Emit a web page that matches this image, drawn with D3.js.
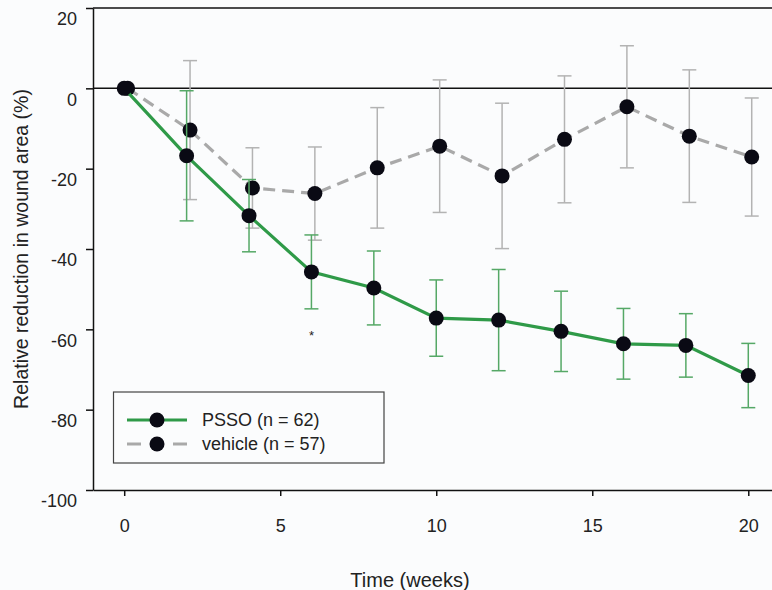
<!DOCTYPE html>
<html>
<head>
<meta charset="utf-8">
<script src="https://cdn.jsdelivr.net/npm/d3@7"></script>
<style>
  body { margin: 0; background: #fbfcfd; }
  svg { display: block; font-family: "Liberation Sans", Arial, sans-serif; }
</style>
</head>
<body>
<div id="chart"></div>
<script>
// weeks of follow-up
var weeks = [0, 2, 4, 6, 8, 10, 12, 14, 16, 18, 20];

// PSSO group: mean and error (half-width)
var psso = [0, -16.8, -31.7, -45.7, -49.7, -57.2, -57.7, -60.5, -63.6, -64.0, -71.5];
var pssoErr = [0, 16.2, 9.0, 9.2, 9.2, 9.5, 12.6, 10.0, 8.8, 7.9, 8.0];

// vehicle group
var vehicle = [0, -10.4, -24.8, -26.2, -19.8, -14.4, -21.8, -12.7, -4.6, -11.9, -17.1];
var vehicleErr = [0, 17.3, 10.0, 11.6, 15.0, 16.5, 18.1, 15.8, 15.2, 16.5, 14.7];

var xTicks = [0, 5, 10, 15, 20];
var yTicks = [20, 0, -20, -40, -60, -80, -100];
var seriesNames = ["PSSO (n = 62)", "vehicle (n = 57)"];
var sigWeeks = [6];

var w = 772, h = 590;
var green = "#2f9a48", greenBar = "#55a866", grey = "#a9a9a9", greyBar = "#b3b3b3";
var fontSize = 18;

var svg = d3.select("#chart").append("svg")
    .attr("width", w)
    .attr("height", h);

var x = d3.scaleLinear().domain([-1, 20.76]).range([93, 772]);
var y = d3.scaleLinear().domain([-100, 20]).range([490, 8]);

// plain hyphen for negatives, like the original figure
var fmt = function(d){ return String(d); };

// x axis
var xAxis = svg.append("g")
    .attr("transform", "translate(0," + y(-100) + ")")
    .call(d3.axisBottom(x).tickValues(xTicks).tickFormat(fmt).tickSize(6).tickPadding(23).tickSizeOuter(0));
xAxis.select(".domain").attr("stroke", "#111").attr("stroke-width", 1.5);
xAxis.selectAll(".tick line").attr("stroke", "#111").attr("stroke-width", 1.5);
xAxis.selectAll("text").attr("font-size", fontSize + "px").attr("fill", "#222")
    .attr("font-family", "Liberation Sans, Arial, sans-serif");

// y axis
var yAxis = svg.append("g")
    .attr("transform", "translate(" + x(-1) + ",0)")
    .call(d3.axisLeft(y).tickValues(yTicks).tickFormat(fmt).tickSize(7).tickPadding(9).tickSizeOuter(0));
yAxis.select(".domain").attr("stroke", "#111").attr("stroke-width", 1.5);
yAxis.selectAll(".tick line").attr("stroke", "#111").attr("stroke-width", 1.5);
yAxis.selectAll("text").attr("font-size", fontSize + "px").attr("fill", "#222")
    .attr("y", 11)
    .attr("font-family", "Liberation Sans, Arial, sans-serif");

// top frame line and zero reference
svg.append("line")
    .attr("x1", x(-1)).attr("x2", w)
    .attr("y1", y(20)).attr("y2", y(20))
    .attr("stroke", "#111").attr("stroke-width", 1.5);
svg.append("line")
    .attr("x1", x(-1)).attr("x2", w)
    .attr("y1", y(0)).attr("y2", y(0))
    .attr("stroke", "#111").attr("stroke-width", 1.5);

// axis titles
svg.append("text")
    .attr("x", 410)
    .attr("y", 587)
    .attr("text-anchor", "middle")
    .attr("font-size", "20px")
    .attr("fill", "#222")
    .text("Time (weeks)");

svg.append("text")
    .attr("transform", "translate(28," + 249 + ") rotate(-90)")
    .attr("text-anchor", "middle")
    .attr("font-size", "19.5px")
    .attr("fill", "#222")
    .text("Relative reduction in wound area (%)");

// vehicle points are nudged a little to the right so the bars don't overlap
var offset = {psso: 0, vehicle: 0.11};

function drawSeries(vals, errs, shift, lineColor, barColor, dash) {
    var g = svg.append("g");
    var pts = weeks.map(function(d, i){ return {wk: d + shift, v: vals[i], e: errs[i]}; });
    var bars = pts.filter(function(d){ return d.e > 0; });

    g.selectAll(".bar")
        .data(bars).enter().append("line")
        .attr("x1", function(d){ return x(d.wk); })
        .attr("x2", function(d){ return x(d.wk); })
        .attr("y1", function(d){ return y(d.v + d.e); })
        .attr("y2", function(d){ return y(d.v - d.e); })
        .attr("stroke", barColor).attr("stroke-width", 1.5);
    g.selectAll(".capTop")
        .data(bars).enter().append("line")
        .attr("x1", function(d){ return x(d.wk) - 7; })
        .attr("x2", function(d){ return x(d.wk) + 7; })
        .attr("y1", function(d){ return y(d.v + d.e); })
        .attr("y2", function(d){ return y(d.v + d.e); })
        .attr("stroke", barColor).attr("stroke-width", 1.5);
    g.selectAll(".capBot")
        .data(bars).enter().append("line")
        .attr("x1", function(d){ return x(d.wk) - 7; })
        .attr("x2", function(d){ return x(d.wk) + 7; })
        .attr("y1", function(d){ return y(d.v - d.e); })
        .attr("y2", function(d){ return y(d.v - d.e); })
        .attr("stroke", barColor).attr("stroke-width", 1.5);

    var line = d3.line()
        .x(function(d){ return x(d.wk); })
        .y(function(d){ return y(d.v); });
    g.append("path")
        .datum(pts)
        .attr("d", line)
        .attr("fill", "none")
        .attr("stroke", lineColor)
        .attr("stroke-width", 3.2)
        .attr("stroke-dasharray", dash);
    return {g: g, pts: pts};
}

var sV = drawSeries(vehicle, vehicleErr, offset.vehicle, grey, greyBar, "12,7");
var sP = drawSeries(psso, pssoErr, offset.psso, green, greenBar, null);

[sV, sP].forEach(function(s){
    s.g.selectAll("circle")
        .data(s.pts).enter().append("circle")
        .attr("cx", function(d){ return x(d.wk); })
        .attr("cy", function(d){ return y(d.v); })
        .attr("r", 7.5)
        .attr("fill", "#0a0a14");
});

// significance marker
svg.selectAll(".sig")
    .data(sigWeeks).enter().append("text")
    .attr("x", function(d){ return x(d); })
    .attr("y", function(d){ return y(psso[weeks.indexOf(d)] - pssoErr[weeks.indexOf(d)]) + 31; })
    .attr("text-anchor", "middle")
    .attr("font-size", "13px")
    .attr("fill", "#222")
    .text("*");

// legend
var leg = svg.append("g");
leg.append("rect")
    .attr("x", 113.5).attr("y", 392)
    .attr("width", 270.5).attr("height", 71)
    .attr("fill", "none")
    .attr("stroke", "#444").attr("stroke-width", 1.2);

var legItems = [
    {name: seriesNames[0], color: green, dash: null},
    {name: seriesNames[1], color: grey, dash: "12,7"}
];
legItems.forEach(function(d, i){
    var ly = 420 + i * 24;
    leg.append("line")
        .attr("x1", 127).attr("x2", 187)
        .attr("y1", ly).attr("y2", ly)
        .attr("stroke", d.color).attr("stroke-width", 3.2)
        .attr("stroke-dasharray", d.dash ? "14,9" : null);
    leg.append("circle")
        .attr("cx", 157).attr("cy", ly).attr("r", 7.5)
        .attr("fill", "#0a0a14");
    leg.append("text")
        .attr("x", 202).attr("y", ly)
        .attr("dy", "0.36em")
        .attr("font-size", fontSize + "px")
        .attr("fill", "#222")
        .text(d.name);
});
</script>
</body>
</html>
